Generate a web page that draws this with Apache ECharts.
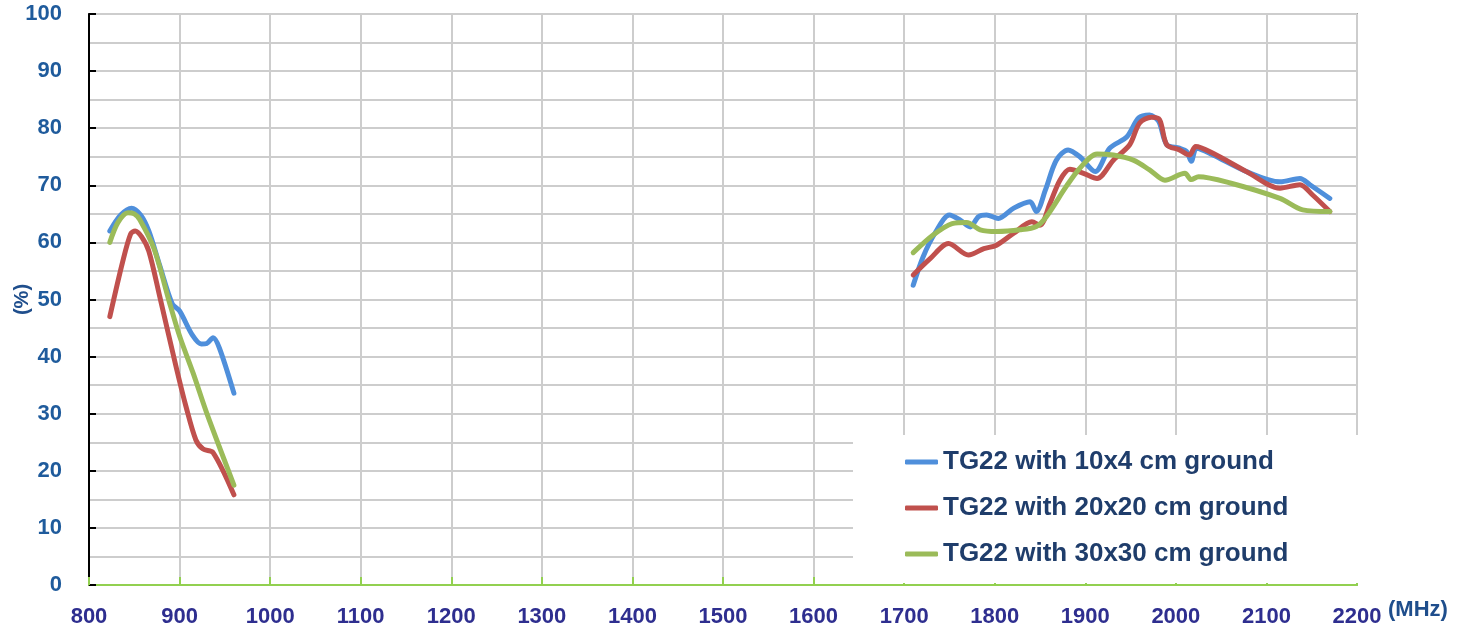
<!DOCTYPE html>
<html>
<head>
<meta charset="utf-8">
<script src="https://cdn.jsdelivr.net/npm/echarts@6/dist/echarts.min.js"></script>
<style>
  html, body { margin: 0; padding: 0; background: #fff; }
  #chart { width: 1462px; height: 631px; }
</style>
</head>
<body>
<div id="chart"></div>
<script>
// frequency (MHz) -> efficiency (%)
const seriesNames = [
  "TG22 with 10x4 cm ground",
  "TG22 with 20x20 cm ground",
  "TG22 with 30x30 cm ground",
];

const ground10x4Low = [
  [823, 62], [835, 64.8], [847, 66], [857, 64.8], [866, 62], [878, 56],
  [892, 49.2], [900, 48], [914, 43.8], [924, 42.2], [930, 42.3], [937, 43.3],
  [944, 41.5], [960, 33.6],
];
const ground10x4High = [
  [1710, 52.5], [1721, 57.5], [1734, 61.6], [1750, 64.8], [1762, 63.9], [1773, 62.7],
  [1782, 64.5], [1791, 64.8], [1804, 64.2], [1821, 66], [1839, 67.1], [1846, 65.4],
  [1856, 69.2], [1868, 74.4], [1881, 76.2], [1894, 75], [1911, 72.4], [1927, 76.5],
  [1946, 78.5], [1959, 81.8], [1971, 82.3], [1981, 81.2], [1990, 77.1], [2004, 76.5],
  [2012, 75.9], [2017, 74.2], [2023, 76.5], [2041, 75.3], [2078, 72.4], [2115, 70.6],
  [2137, 71.2], [2148, 70.1], [2170, 67.7],
];

const ground20x20Low = [
  [823, 47], [837, 56.5], [846, 61.5], [851, 62], [858, 61], [866, 58.5],
  [878, 50.6], [896, 38.3], [907, 31.3], [918, 25.4], [926, 23.8], [937, 23.2],
  [960, 15.8],
];
const ground20x20High = [
  [1710, 54.3], [1729, 57.2], [1749, 59.8], [1771, 57.8], [1788, 58.9], [1802, 59.5],
  [1821, 61.6], [1841, 63.6], [1850, 63], [1861, 66.8], [1872, 70.9], [1883, 72.8],
  [1898, 72.1], [1913, 71.2], [1931, 74.4], [1949, 77.1], [1960, 80.9], [1973, 81.9],
  [1982, 81.5], [1990, 77.1], [2004, 76.2], [2015, 75.3], [2022, 76.8], [2041, 75.6],
  [2078, 72.4], [2115, 69.5], [2137, 70.1], [2151, 68.3], [2170, 65.4],
];

const ground30x30Low = [
  [823, 60], [832, 63.5], [843, 65.2], [850, 65], [856, 64], [872, 58.8],
  [889, 49.4], [900, 43.6], [915, 37.1], [930, 30.1], [960, 17.5],
];
const ground30x30High = [
  [1710, 58.2], [1732, 61.3], [1753, 63.3], [1769, 63.5], [1784, 62.2], [1802, 61.9],
  [1828, 62.2], [1846, 62.8], [1857, 64.5], [1879, 69.8], [1894, 73], [1913, 75.5],
  [1931, 75.3], [1953, 74.4], [1971, 72.7], [1988, 70.9], [2010, 72.1], [2017, 71],
  [2025, 71.5], [2060, 70.4], [2115, 67.7], [2140, 65.7], [2170, 65.4],
];

const colors = ["#4f8fdb", "#c0504d", "#9bbb59"];
const bands = [
  [ground10x4Low, ground10x4High],
  [ground20x20Low, ground20x20High],
  [ground30x30Low, ground30x30High],
];

const series = [];
bands.forEach((pair, i) => {
  pair.forEach((data) => {
    series.push({
      name: seriesNames[i],
      type: "line",
      data: data,
      smooth: 0.3,
      showSymbol: false,
      symbol: "none",
      color: colors[i],
      lineStyle: { width: 5, color: colors[i], cap: "round", join: "round" },
    });
  });
});

const labelFont = "'Liberation Sans', Arial, sans-serif";

const chart = echarts.init(document.getElementById("chart"));
chart.setOption({
  animation: false,
  color: colors,
  grid: {
    left: 89,
    right: 105,
    top: 14,
    bottom: 46,
    outerBoundsMode: "none",
    containLabel: false,
    show: true,
    borderColor: "#a6a6a6",
    borderWidth: 2,
  },
  legend: {
    data: seriesNames,
    orient: "vertical",
    left: 853,
    top: 435,
    padding: [14, 71, 16, 52],
    backgroundColor: "#ffffff",
    icon: "roundRect",
    itemWidth: 33,
    itemHeight: 5,
    itemGap: 20,
    textStyle: {
      fontFamily: labelFont,
      fontWeight: "bold",
      fontSize: 26,
      color: "#1f3d6b",
    },
  },
  xAxis: {
    type: "value",
    min: 800,
    max: 2200,
    interval: 100,
    name: "(MHz)",
    nameLocation: "end",
    nameGap: 31,
    nameMoveOverlap: false,
    nameTextStyle: {
      fontFamily: labelFont,
      fontWeight: "bold",
      fontSize: 22,
      color: "#1f4e8c",
      verticalAlign: "top",
      padding: [14, 0, 0, 0],
    },
    axisLine: { show: true, lineStyle: { color: "#92d050", width: 2 } },
    axisTick: { show: true, inside: true, length: 8, lineStyle: { color: "#92d050", width: 2 } },
    axisLabel: {
      margin: 21,
      fontFamily: labelFont,
      fontWeight: "bold",
      fontSize: 22,
      color: "#2e2e8f",
      formatter: (v) => String(v),
    },
    splitLine: { show: true, lineStyle: { color: "#cdcdcd", width: 2 } },
  },
  yAxis: {
    type: "value",
    min: 0,
    max: 100,
    interval: 10,
    name: "(%)",
    nameLocation: "middle",
    nameGap: 57,
    nameRotate: 90,
    nameMoveOverlap: false,
    nameTextStyle: {
      fontFamily: labelFont,
      fontWeight: "bold",
      fontSize: 20,
      color: "#1f4e8c",
    },
    axisLine: { show: true, lineStyle: { color: "#000000", width: 2 } },
    axisTick: { show: true, inside: true, length: 7, lineStyle: { color: "#000000", width: 2 } },
    minorTick: { show: false, splitNumber: 2 },
    axisLabel: {
      margin: 27,
      fontFamily: labelFont,
      fontWeight: "bold",
      fontSize: 22,
      color: "#1f5b9c",
      formatter: (v) => String(v),
    },
    splitLine: { show: true, lineStyle: { color: "#cdcdcd", width: 2 } },
    minorSplitLine: { show: true, lineStyle: { color: "#cdcdcd", width: 2 } },
  },
  series: series,
});
</script>
</body>
</html>
